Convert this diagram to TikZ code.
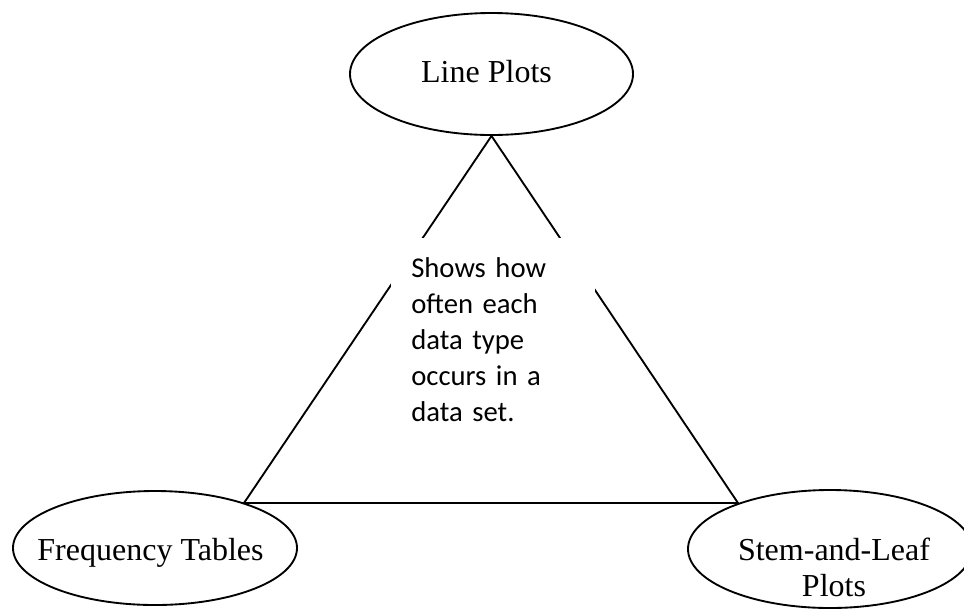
\documentclass[tikz,border=0pt]{standalone}
\usepackage{fontspec}
\setmainfont{Liberation Serif}
\newfontfamily\notefont{Carlito}
\usetikzlibrary{shapes.geometric}

\tikzset{
  oval/.style={ellipse, draw=black, line width=1.4pt, fill=white, inner sep=0pt},
  ovaltext/.style={font=\fontsize{24}{27}\selectfont, inner sep=0pt, anchor=base},
  side/.style={draw=black, line width=1.4pt},
  mask/.style={fill=white, inner sep=0pt, anchor=north west},
  notetext/.style={font=\notefont\fontsize{21.5}{27}\selectfont, inner sep=0pt,
                   anchor=base west, text width=150pt, align=left}
}

\begin{document}
\begin{tikzpicture}[x=0.75pt, y=-0.75pt]
  \useasboundingbox (0,0) rectangle (964,608);

  % the three ellipses
  \node[oval, minimum width=212.25pt, minimum height=91.5pt] (line) at (491.5,74) {};
  \node[oval, minimum width=213pt, minimum height=85.5pt] (freq) at (155,548) {};
  \node[oval, minimum width=213pt, minimum height=88.5pt] (stem) at (830,549) {};

  % their labels
  \node[ovaltext] (linelbl) at (486.5,82) {Line Plots};
  \node[ovaltext] (freqlbl) at (150.5,560) {Frequency Tables};
  \node[ovaltext, text width=180pt, align=center] (stemlbl) at (834,560) {Stem-and-Leaf\\Plots};

  % triangle joining the ellipses
  \coordinate (bl) at (244,503);
  \coordinate (br) at (738,503);
  \draw[side, line join=miter] (line.south) -- (bl) -- (br) -- cycle;

  % white text box over the middle of the triangle
  \node[mask, minimum width=153pt, minimum height=150pt] (box) at (391,238) {};
  \node[notetext] (note) at (411,277)
    {Shows how\\often each\\data type\\occurs in a\\data set.};
\end{tikzpicture}
\end{document}
